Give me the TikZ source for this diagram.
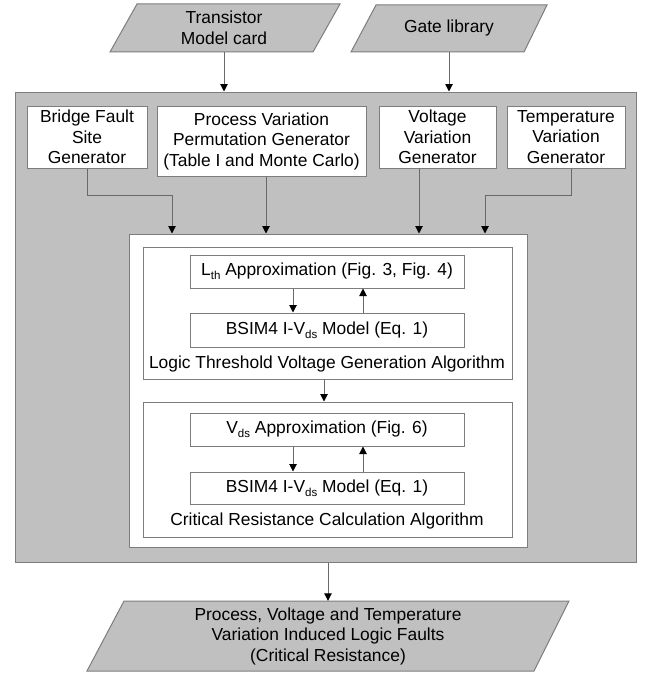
\documentclass[tikz,border=0pt]{standalone}
\usepackage{fontspec}
\setmainfont{Liberation Sans}
\usetikzlibrary{arrows.meta,calc}
\definecolor{panel}{RGB}{192,192,192}
\definecolor{edge}{RGB}{125,125,125}
\definecolor{wire}{RGB}{105,105,105}
\newcommand{\mysub}[1]{\raisebox{-0.4ex}{\fontsize{11.5}{11.5}\selectfont #1}}
\begin{document}
\begin{tikzpicture}[x={(1pt,0pt)},y={(0pt,-1pt)},
  font=\fontsize{17.4}{20.5}\selectfont,
  box/.style={draw=edge, fill=white, line width=1pt, align=center, inner sep=0pt},
  para/.style={draw=edge, fill=panel, line width=1pt},
  txt/.style={align=center, inner sep=0pt},
  arr/.style={draw=wire, line width=1pt, -{Triangle[length=7.5pt,width=7.5pt,color=black]}}]
\useasboundingbox (0,0) rectangle (649,677);

% input parallelograms
\path[para] (137,4) -- (340,4) -- (313,52) -- (110,52) -- cycle;
\node[txt, minimum height=48pt] (trans) at (224,28) {Transistor\\Model card};
\path[para] (376,5) -- (547,5) -- (524,52) -- (351,52) -- cycle;
\node[txt, minimum height=47pt] (gate) at (449,28.5) {Gate library};

% main panel
\node[draw=edge, fill=panel, line width=1pt, minimum width=621pt, minimum height=470pt, inner sep=0pt] (panel) at (325.5,327) {};

% generators
\node[box, minimum width=120pt, minimum height=62pt] (bridge) at (87,137) {Bridge Fault\\Site\\Generator};
\node[box, minimum width=209pt, minimum height=70pt] (process) at (261.5,141) {Process Variation\\Permutation Generator\\(Table I and Monte Carlo)};
\node[box, minimum width=117pt, minimum height=62pt] (voltage) at (437.5,137) {Voltage\\Variation\\Generator};
\node[box, minimum width=118pt, minimum height=62pt] (temp) at (566,137) {Temperature\\Variation\\Generator};

% algorithm container
\node[box, minimum width=398pt, minimum height=313pt] (white) at (328,390.5) {};
\node[box, minimum width=369pt, minimum height=132pt] (inner1) at (327.5,313) {};
\node[box, minimum width=369pt, minimum height=135pt] (inner2) at (327.5,469.5) {};

\node[box, minimum width=274pt, minimum height=33pt] (lth) at (327,271.5) {L\mysub{th} Approximation (Fig. 3, Fig. 4)};
\node[box, minimum width=274pt, minimum height=34pt] (bsim1) at (327,330) {BSIM4 I-V\mysub{ds} Model (Eq. 1)};
\node[txt] (cap1) at (327,364) {Logic Threshold Voltage Generation Algorithm};

\node[box, minimum width=274pt, minimum height=33pt] (vds) at (327,429.5) {V\mysub{ds} Approximation (Fig. 6)};
\node[box, minimum width=274pt, minimum height=32pt] (bsim2) at (327,488) {BSIM4 I-V\mysub{ds} Model (Eq. 1)};
\node[txt] (cap2) at (327,521) {Critical Resistance Calculation Algorithm};

% output parallelogram
\path[para] (124,601) -- (569,601) -- (534,671) -- (87,671) -- cycle;
\node[txt, minimum height=70pt] (out) at (328,636) {Process, Voltage and Temperature\\Variation Induced Logic Faults\\(Critical Resistance)};

% helper x positions
\coordinate (xa) at (172,0);
\coordinate (xb) at (266,0);
\coordinate (xc) at (419,0);
\coordinate (xd) at (485,0);
\coordinate (xe) at (571,0);
\coordinate (xdn) at (293,0);
\coordinate (xup) at (363,0);
\coordinate (xmid) at (324,0);
\coordinate (xout) at (328,0);

% connectors
\draw[arr] (trans.south) -- (panel.north -| trans.south);
\draw[arr] (gate.south) -- (panel.north -| gate.south);
\draw[arr] (bridge.south) -- ++(0,27) -| (white.north -| xa);
\draw[arr] (process.south -| xb) -- (white.north -| xb);
\draw[arr] (voltage.south -| xc) -- (white.north -| xc);
\draw[arr] (temp.south -| xe) -- ++(0,27) -| (white.north -| xd);

\draw[arr] (lth.south -| xdn) -- (bsim1.north -| xdn);
\draw[arr] (bsim1.north -| xup) -- (lth.south -| xup);
\draw[arr] (inner1.south -| xmid) -- (inner2.north -| xmid);
\draw[arr] (vds.south -| xdn) -- (bsim2.north -| xdn);
\draw[arr] (bsim2.north -| xup) -- (vds.south -| xup);
\draw[arr] (panel.south -| xout) -- (out.north -| xout);
\end{tikzpicture}
\end{document}
